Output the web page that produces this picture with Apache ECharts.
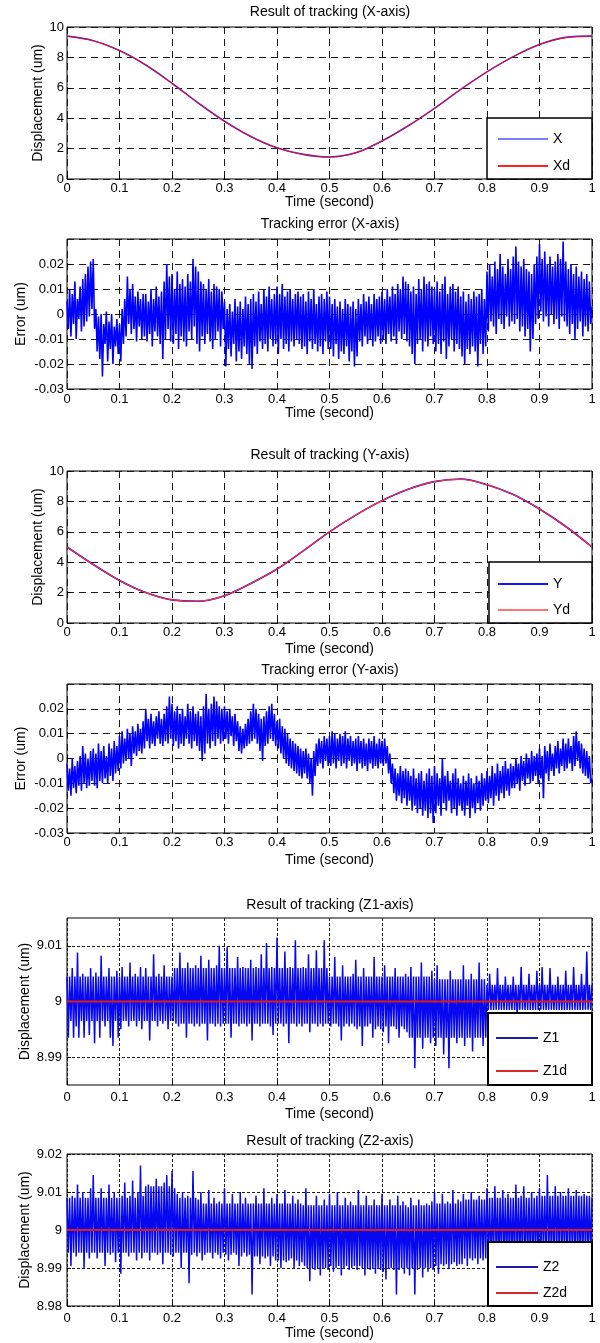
<!DOCTYPE html>
<html>
<head>
<meta charset="utf-8">
<script src="https://cdn.jsdelivr.net/npm/echarts@6/dist/echarts.min.js"></script>
<style>
  html, body { margin: 0; padding: 0; background: #fff; }
  #main { width: 600px; height: 1343px; }
</style>
</head>
<body>
<div id="main"></div>
<script>
// tracking curves, read every 0.05 s
const tCurve = [0, 0.05, 0.1, 0.15, 0.2, 0.25, 0.3, 0.35, 0.4, 0.45, 0.5, 0.55, 0.6, 0.65, 0.7, 0.75, 0.8, 0.85, 0.9, 0.95, 1];
const xMeas = [9.4, 9.1, 8.45, 7.5, 6.3, 5.0, 3.8, 2.8, 2.05, 1.62, 1.45, 1.72, 2.5, 3.5, 4.65, 5.9, 7.05, 8.05, 8.85, 9.32, 9.4];
const xRef  = [9.4, 9.1, 8.45, 7.5, 6.3, 5.0, 3.8, 2.8, 2.05, 1.62, 1.45, 1.72, 2.5, 3.5, 4.65, 5.9, 7.05, 8.05, 8.85, 9.3, 9.4];
const yMeas = [5.0, 3.85, 2.8, 2.0, 1.52, 1.43, 1.8, 2.6, 3.55, 4.75, 6.0, 7.1, 8.05, 8.8, 9.3, 9.47, 9.1, 8.45, 7.5, 6.35, 5.0];
const yRef  = [5.0, 3.85, 2.8, 2.0, 1.52, 1.43, 1.8, 2.6, 3.55, 4.75, 6.0, 7.1, 8.05, 8.8, 9.3, 9.45, 9.1, 8.45, 7.5, 6.35, 5.0];

// noisy signals, read every 0.0025 s (one row = 0.05 s)
const dtNoise = 0.0025;
const errX = [
  .005,-.006,.010,-.009,.008,-.004,.013,-.010,.006,-.002,.011,-.007,.014,-.005,.016,-.003,.019,-.001,.021,.002,
  .022,-.006,.002,-.015,-.001,-.018,.000,-.025,-.004,-.012,.001,-.019,-.003,-.014,.000,-.020,-.005,-.013,-.002,-.016,
  -.004,-.019,.002,-.012,.006,-.009,.015,-.004,.010,-.008,.012,-.006,.007,-.011,.009,-.005,.006,-.010,.008,-.009,
  .008,-.011,.005,-.008,.010,-.013,.006,-.007,.011,-.009,.007,-.012,.009,-.018,.013,-.010,.020,-.006,.015,-.011,
  .016,-.012,.010,-.008,.017,-.014,.012,-.009,.014,-.011,.011,-.013,.016,-.007,.013,-.010,.022,-.005,.019,-.012,
  .017,-.015,.013,-.009,.012,-.012,.010,-.008,.014,-.011,.009,-.014,.012,-.010,.011,-.007,.010,-.013,.009,-.006,
  .005,-.021,.002,-.014,.004,-.017,.001,-.012,.006,-.019,.003,-.015,.005,-.018,.002,-.013,.007,-.016,.004,-.020,
  .006,-.022,.008,-.013,.005,-.016,.009,-.011,.004,-.014,.010,-.012,.007,-.015,.011,-.010,.006,-.013,.008,-.012,
  .011,-.016,.008,-.010,.012,-.014,.007,-.012,.009,-.015,.010,-.011,.006,-.013,.008,-.010,.009,-.012,.007,-.014,
  .008,-.013,.005,-.016,.009,-.011,.006,-.014,.010,-.012,.004,-.015,.007,-.013,.008,-.016,.006,-.011,.009,-.014,
  .007,-.014,.004,-.017,.006,-.012,.003,-.018,.005,-.015,.002,-.016,.006,-.013,.004,-.019,.003,-.015,.005,-.021,
  .002,-.017,.006,-.011,.004,-.013,.008,-.009,.005,-.012,.007,-.010,.004,-.013,.008,-.011,.006,-.009,.007,-.012,
  .009,-.010,.006,-.012,.010,-.008,.007,-.011,.011,-.009,.008,-.012,.012,-.007,.010,-.010,.015,-.008,.013,-.011,
  .012,-.013,.009,-.016,.011,-.020,.008,-.012,.014,-.010,.010,-.015,.015,-.011,.012,-.013,.013,-.009,.011,-.012,
  .010,-.015,.013,-.012,.009,-.016,.012,-.011,.015,-.018,.008,-.013,.011,-.010,.012,-.015,.009,-.012,.011,-.014,
  .007,-.017,.009,-.020,.005,-.014,.008,-.016,.006,-.013,.009,-.015,.007,-.021,.008,-.012,.010,-.016,.006,-.013,
  .017,-.007,.020,-.003,.015,-.005,.021,-.008,.018,-.002,.024,-.004,.019,-.006,.016,-.001,.022,-.005,.018,-.003,
  .023,-.004,.027,-.002,.021,-.007,.019,-.005,.022,-.009,.018,-.006,.017,-.015,.016,-.010,.020,-.004,.023,-.002,
  .028,.001,.022,-.003,.025,-.001,.020,-.005,.023,.000,.019,-.004,.021,-.002,.024,-.006,.022,-.001,.029,-.003,
  .021,-.005,.018,-.008,.020,-.004,.016,-.010,.019,-.006,.015,-.003,.017,-.009,.014,-.005,.016,-.007,.013,-.004,
  .003
];
const errY = [
  -.002,-.013,-.004,-.015,.000,-.012,-.003,-.014,-.001,-.011,.001,-.013,.005,-.010,.002,-.012,.000,-.011,.003,-.009,
  .004,-.011,.002,-.012,.006,-.009,.003,-.010,.005,-.008,.001,-.010,.006,-.007,.004,-.009,.007,-.006,.005,-.005,
  .009,-.004,.011,-.002,.008,-.001,.012,.000,.010,-.003,.013,.002,.011,.001,.014,.003,.012,.002,.015,.004,
  .020,.007,.016,.004,.018,.006,.015,.005,.017,.008,.019,.006,.016,.005,.018,.007,.021,.006,.025,.008,
  .022,.005,.019,.007,.021,.004,.018,.006,.020,.005,.017,.008,.022,.006,.019,.004,.021,.007,.018,.005,
  .019,.003,.017,-.001,.021,.002,.026,.006,.020,.004,.022,.007,.025,.005,.023,.008,.021,.006,.020,.007,
  .021,.008,.019,.006,.020,.009,.017,.005,.018,.007,.015,.003,.013,.002,.012,.004,.014,.005,.016,.006,
  .019,.007,.022,.008,.020,.006,.018,.003,.016,-.001,.017,.005,.019,.006,.021,.008,.022,.007,.018,.005,
  .015,.004,.016,.002,.013,.000,.012,-.002,.010,-.003,.008,-.004,.007,-.005,.006,-.006,.005,-.007,.004,-.008,
  .003,-.006,.004,-.008,.002,-.010,.000,-.015,.003,-.007,.006,-.003,.008,-.002,.007,-.004,.009,-.001,.008,-.003,
  .009,-.003,.011,-.002,.010,-.004,.008,-.001,.010,-.003,.009,-.002,.011,-.004,.008,-.001,.009,-.003,.007,-.002,
  .008,-.005,.009,-.002,.007,-.004,.008,-.003,.006,-.005,.008,-.002,.007,-.004,.009,-.003,.006,-.004,.008,-.002,
  .007,-.003,.008,-.002,.005,-.006,.002,-.010,-.002,-.014,-.004,-.017,-.006,-.015,-.003,-.018,-.005,-.016,-.004,-.019,
  -.005,-.017,-.007,-.021,-.004,-.019,-.008,-.022,-.006,-.020,-.005,-.023,-.009,-.021,-.006,-.024,-.004,-.022,-.007,-.026,
  -.003,-.022,-.006,-.019,-.008,-.023,.000,-.018,-.007,-.021,-.005,-.017,-.009,-.022,-.006,-.020,-.004,-.023,-.008,-.019,
  -.010,-.021,-.007,-.023,-.009,-.019,-.006,-.024,-.008,-.020,-.010,-.022,-.007,-.018,-.009,-.021,-.006,-.019,-.008,-.017,
  -.005,-.018,-.007,-.016,-.003,-.019,-.006,-.015,-.002,-.017,-.005,-.014,-.003,-.016,-.001,-.013,-.004,-.015,-.002,-.012,
  -.003,-.012,.000,-.010,-.002,-.013,.001,-.009,-.001,-.011,.002,-.008,.000,-.010,.003,-.009,.001,-.007,.002,-.010,
  .004,-.008,.001,-.016,.005,-.006,.003,-.009,.006,-.005,.002,-.007,.005,-.004,.007,-.006,.004,-.003,.008,-.005,
  .006,-.004,.008,-.002,.005,-.005,.009,-.003,.011,-.001,.007,-.004,.006,-.006,.004,-.007,.003,-.008,.001,-.010,
  -.008
];
const z1Meas = [
  9.0045,8.9935,9.0045,8.9965,9.0060,8.9935,9.0045,8.9955,9.0088,8.9935,9.0045,8.9965,9.0050,8.9935,9.0045,8.9965,9.0045,8.9940,9.0060,8.9965,
  9.0045,8.9925,9.0052,8.9965,9.0045,8.9935,9.0082,8.9965,9.0045,8.9955,9.0045,8.9965,9.0060,8.9935,9.0045,8.9920,9.0045,8.9965,9.0055,8.9935,
  9.0045,8.9950,9.0062,8.9965,9.0045,8.9965,9.0045,8.9955,9.0070,8.9965,9.0045,8.9965,9.0050,8.9955,9.0045,8.9965,9.0062,8.9950,9.0045,8.9965,
  9.0060,8.9965,9.0045,8.9930,9.0045,8.9965,9.0085,8.9965,9.0045,8.9955,9.0050,8.9965,9.0045,8.9960,9.0065,8.9965,9.0045,8.9950,9.0045,8.9965,
  9.0045,8.9965,9.0060,8.9960,9.0060,8.9955,9.0088,8.9960,9.0060,8.9960,9.0060,8.9935,9.0070,8.9960,9.0060,8.9960,9.0060,8.9955,9.0065,8.9960,
  9.0060,8.9955,9.0082,8.9960,9.0060,8.9960,9.0060,8.9930,9.0075,8.9960,9.0060,8.9960,9.0060,8.9955,9.0065,8.9960,9.0100,8.9955,9.0060,8.9960,
  9.0060,8.9960,9.0098,8.9960,9.0060,8.9935,9.0060,8.9960,9.0060,8.9960,9.0080,8.9955,9.0060,8.9960,9.0062,8.9960,9.0060,8.9955,9.0060,8.9960,
  9.0075,8.9930,9.0060,8.9960,9.0062,8.9960,9.0060,8.9955,9.0085,8.9960,9.0060,8.9960,9.0105,8.9960,9.0060,8.9955,9.0062,8.9940,9.0060,8.9960,
  9.0115,8.9960,9.0060,8.9960,9.0060,8.9955,9.0090,8.9960,9.0060,8.9925,9.0062,8.9960,9.0060,8.9960,9.0110,8.9955,9.0060,8.9960,9.0060,8.9955,
  9.0062,8.9960,9.0060,8.9960,9.0085,8.9945,9.0060,8.9960,9.0060,8.9960,9.0092,8.9955,9.0060,8.9960,9.0060,8.9955,9.0110,8.9960,9.0060,8.9960,
  9.0045,8.9955,9.0045,8.9960,9.0080,8.9960,9.0045,8.9955,9.0045,8.9930,9.0065,8.9955,9.0045,8.9960,9.0045,8.9955,9.0045,8.9960,9.0050,8.9955,
  9.0075,8.9950,9.0045,8.9955,9.0045,8.9920,9.0060,8.9955,9.0045,8.9955,9.0045,8.9960,9.0045,8.9935,9.0080,8.9950,9.0045,8.9955,9.0045,8.9950,
  9.0045,8.9945,9.0065,8.9955,9.0045,8.9925,9.0045,8.9955,9.0045,8.9955,9.0060,8.9950,9.0045,8.9935,9.0045,8.9955,9.0045,8.9950,9.0050,8.9945,
  9.0045,8.9935,9.0062,8.9935,9.0045,8.9880,9.0045,8.9935,9.0045,8.9935,9.0070,8.9915,9.0045,8.9935,9.0045,8.9935,9.0045,8.9925,9.0055,8.9935,
  9.0040,8.9920,9.0065,8.9935,9.0040,8.9935,9.0040,8.9905,9.0040,8.9935,9.0040,8.9880,9.0055,8.9935,9.0040,8.9935,9.0040,8.9925,9.0040,8.9935,
  9.0040,8.9935,9.0065,8.9920,9.0040,8.9935,9.0040,8.9935,9.0050,8.9910,9.0040,8.9935,9.0040,8.9935,9.0070,8.9935,9.0040,8.9920,9.0040,8.9935,
  9.0030,8.9985,9.0050,8.9985,9.0030,8.9985,9.0030,8.9985,9.0060,8.9985,9.0030,8.9985,9.0030,8.9985,9.0045,8.9985,9.0030,8.9985,9.0030,8.9985,
  9.0045,8.9985,9.0030,8.9975,9.0030,8.9985,9.0062,8.9985,9.0030,8.9985,9.0030,8.9985,9.0050,8.9985,9.0030,8.9985,9.0030,8.9985,9.0055,8.9985,
  9.0030,8.9985,9.0062,8.9985,9.0030,8.9985,9.0030,8.9985,9.0060,8.9985,9.0030,8.9985,9.0030,8.9985,9.0045,8.9985,9.0030,8.9985,9.0030,8.9985,
  9.0055,8.9985,9.0030,8.9985,9.0030,8.9985,9.0062,8.9985,9.0030,8.9985,9.0030,8.9985,9.0050,8.9985,9.0030,8.9985,9.0090,8.9985,9.0030,8.9985,
  9.0030
];
const z2Meas = [
  9.0085,8.9940,9.0085,8.9905,9.0090,8.9940,9.0085,8.9930,9.0120,8.9940,9.0085,8.9940,9.0100,8.9900,9.0085,8.9940,9.0085,8.9925,9.0110,8.9940,
  9.0145,8.9940,9.0085,8.9925,9.0085,8.9940,9.0110,8.9940,9.0085,8.9905,9.0085,8.9940,9.0120,8.9935,9.0085,8.9940,9.0100,8.9915,9.0085,8.9940,
  9.0085,8.9885,9.0090,8.9940,9.0125,8.9940,9.0085,8.9930,9.0090,8.9940,9.0130,8.9940,9.0085,8.9920,9.0100,8.9940,9.0170,8.9925,9.0090,8.9940,
  9.0115,8.9940,9.0120,8.9920,9.0115,8.9940,9.0115,8.9940,9.0135,8.9935,9.0115,8.9940,9.0115,8.9910,9.0125,8.9940,9.0145,8.9940,9.0115,8.9935,
  9.0155,8.9930,9.0110,8.9940,9.0095,8.9940,9.0085,8.9900,9.0100,8.9940,9.0085,8.9940,9.0090,8.9860,9.0085,8.9935,9.0155,8.9940,9.0085,8.9930,
  9.0080,8.9940,9.0100,8.9920,9.0070,8.9935,9.0070,8.9940,9.0105,8.9940,9.0070,8.9925,9.0085,8.9940,9.0070,8.9935,9.0075,8.9925,9.0070,8.9940,
  9.0110,8.9935,9.0070,8.9920,9.0070,8.9935,9.0095,8.9940,9.0070,8.9935,9.0070,8.9905,9.0100,8.9930,9.0070,8.9940,9.0085,8.9930,9.0070,8.9935,
  9.0070,8.9830,9.0070,8.9930,9.0090,8.9930,9.0070,8.9910,9.0070,8.9930,9.0110,8.9925,9.0070,8.9930,9.0070,8.9905,9.0085,8.9930,9.0070,8.9920,
  9.0095,8.9920,9.0070,8.9900,9.0070,8.9920,9.0105,8.9915,9.0070,8.9920,9.0070,8.9925,9.0090,8.9900,9.0070,8.9920,9.0080,8.9905,9.0070,8.9915,
  9.0065,8.9905,9.0110,8.9900,9.0065,8.9865,9.0065,8.9900,9.0065,8.9895,9.0090,8.9900,9.0065,8.9880,9.0065,8.9900,9.0080,8.9900,9.0065,8.9895,
  9.0095,8.9905,9.0065,8.9890,9.0065,8.9900,9.0100,8.9905,9.0065,8.9880,9.0065,8.9900,9.0085,8.9905,9.0065,8.9895,9.0075,8.9900,9.0065,8.9905,
  9.0065,8.9895,9.0105,8.9905,9.0065,8.9900,9.0065,8.9880,9.0090,8.9900,9.0065,8.9895,9.0065,8.9900,9.0080,8.9885,9.0065,8.9900,9.0065,8.9895,
  9.0095,8.9890,9.0065,8.9870,9.0065,8.9900,9.0080,8.9900,9.0065,8.9895,9.0065,8.9830,9.0090,8.9895,9.0065,8.9900,9.0075,8.9885,9.0065,8.9900,
  9.0060,8.9880,9.0085,8.9900,9.0065,8.9830,9.0065,8.9895,9.0080,8.9900,9.0065,8.9875,9.0065,8.9900,9.0070,8.9890,9.0065,8.9900,9.0075,8.9895,
  9.0100,8.9905,9.0070,8.9885,9.0070,8.9910,9.0095,8.9905,9.0070,8.9910,9.0075,8.9900,9.0070,8.9910,9.0105,8.9915,9.0070,8.9905,9.0080,8.9910,
  9.0075,8.9910,9.0095,8.9925,9.0080,8.9905,9.0080,8.9925,9.0100,8.9920,9.0080,8.9925,9.0080,8.9910,9.0090,8.9925,9.0080,8.9920,9.0080,8.9925,
  9.0110,8.9925,9.0085,8.9910,9.0085,8.9930,9.0115,8.9930,9.0085,8.9915,9.0085,8.9930,9.0105,8.9930,9.0085,8.9920,9.0095,8.9930,9.0085,8.9930,
  9.0085,8.9915,9.0120,8.9930,9.0085,8.9930,9.0090,8.9920,9.0115,8.9935,9.0085,8.9930,9.0085,8.9925,9.0100,8.9930,9.0085,8.9930,9.0090,8.9925,
  9.0110,8.9930,9.0090,8.9940,9.0090,8.9930,9.0145,8.9925,9.0090,8.9935,9.0090,8.9930,9.0115,8.9930,9.0090,8.9940,9.0100,8.9930,9.0090,8.9935,
  9.0090,8.9935,9.0110,8.9930,9.0090,8.9940,9.0090,8.9930,9.0105,8.9925,9.0090,8.9935,9.0090,8.9930,9.0095,8.9935,9.0090,8.9935,9.0090,8.9930,
  9.0085
];
const tRefZ = [0, 1];
const z1Ref = [9, 9];
const z2Ref = [9, 9];

const pairs = (t, v) => v.map((y, i) => [t[i], y]);
const noisePairs = v => v.map((y, i) => [i * dtNoise, y]);

const font = 'Liberation Sans';
const chart = echarts.init(document.getElementById('main'), null, { renderer: 'canvas' });

const grids = [
  { top: 27, height: 152 },
  { top: 239, height: 150 },
  { top: 471, height: 152 },
  { top: 684, height: 149 },
  { top: 918, height: 167 },
  { top: 1154, height: 152 }
].map(g => Object.assign({
  left: 67, width: 525, show: true, borderColor: '#000', borderWidth: 1,
  backgroundColor: 'transparent', outerBoundsMode: 'none'
}, g));

const dashBig = [7, 5];
const dashSmall = [3, 2];

function xAxisFor(g, gap, margin, dash) {
  return {
    type: 'value', gridIndex: g, min: 0, max: 1, interval: 0.1,
    name: 'Time (second)', nameLocation: 'middle', nameGap: gap, nameMoveOverlap: false,
    nameTextStyle: { fontFamily: font, fontSize: 14, color: '#000' },
    axisLine: { show: false },
    axisTick: { inside: true, length: 4, lineStyle: { color: '#000' } },
    axisLabel: { fontFamily: font, fontSize: 13, color: '#000', margin: margin },
    splitLine: { show: true, lineStyle: { color: '#1a1a1a', type: dash, width: 1 } }
  };
}

function yAxisFor(g, name, gap, margin, dash, extra) {
  return Object.assign({
    type: 'value', gridIndex: g,
    name: name, nameLocation: 'middle', nameGap: gap, nameMoveOverlap: false,
    nameTextStyle: { fontFamily: font, fontSize: 14, color: '#000' },
    axisLine: { show: false },
    axisTick: { inside: true, length: 4, lineStyle: { color: '#000' } },
    axisLabel: { fontFamily: font, fontSize: 13, color: '#000', margin: margin },
    splitLine: { show: true, lineStyle: { color: '#1a1a1a', type: dash, width: 1 } }
  }, extra);
}

const xAxes = [
  xAxisFor(0, 16, 3, dashBig),
  xAxisFor(1, 17, 4, dashBig),
  xAxisFor(2, 19, 3, dashBig),
  xAxisFor(3, 20, 3, dashBig),
  xAxisFor(4, 22, 6, dashSmall),
  xAxisFor(5, 20, 6, dashSmall)
];

const yAxes = [
  yAxisFor(0, 'Displacement (um)', 22, 3, dashBig, { min: 0, max: 10, interval: 2 }),
  yAxisFor(1, 'Error (um)', 39, 3, dashBig, { min: -0.03, max: 0.03, interval: 0.01 }),
  yAxisFor(2, 'Displacement (um)', 22, 3, dashBig, { min: 0, max: 10, interval: 2 }),
  yAxisFor(3, 'Error (um)', 39, 3, dashBig, { min: -0.03, max: 0.03, interval: 0.01 }),
  yAxisFor(4, 'Displacement (um)', 35, 5, dashSmall, { min: 8.985, max: 9.015 }),
  yAxisFor(5, 'Displacement (um)', 35, 5, dashSmall, { min: 8.98, max: 9.02, interval: 0.01 })
];
// hide unlabeled top tick of the error plots
yAxes[1].axisLabel.showMaxLabel = false;
yAxes[3].axisLabel.showMaxLabel = false;
// Z1 axis: ticks only at 8.99, 9, 9.01
yAxes[4].axisTick.customValues = [8.99, 9, 9.01];
yAxes[4].axisLabel.customValues = [8.99, 9, 9.01];

function line(name, g, data, color, width, smooth) {
  return {
    name: name, type: 'line', xAxisIndex: g, yAxisIndex: g, data: data,
    symbol: 'none', showSymbol: false, smooth: smooth || false,
    lineStyle: { color: color, width: width }, itemStyle: { color: color },
    animation: false
  };
}

const series = [
  line('X', 0, pairs(tCurve, xMeas), '#3a3aff', 1.6, 0.35),
  line('Xd', 0, pairs(tCurve, xRef), '#ff0000', 1, 0.35),
  line('Error X', 1, noisePairs(errX), '#0000ff', 1.6),
  line('Y', 2, pairs(tCurve, yMeas), '#0000ff', 1.6, 0.35),
  line('Yd', 2, pairs(tCurve, yRef), '#ff3030', 1.2, 0.35),
  line('Error Y', 3, noisePairs(errY), '#0000ff', 1.6),
  line('Z1', 4, noisePairs(z1Meas), '#0808f0', 1.5),
  line('Z1d', 4, pairs(tRefZ, z1Ref), '#e01818', 2),
  line('Z2', 5, noisePairs(z2Meas), '#0808f0', 1.5),
  line('Z2d', 5, pairs(tRefZ, z2Ref), '#e01818', 2)
];

const titles = [
  ['Result of tracking (X-axis)', 5],
  ['Tracking error (X-axis)', 217],
  ['Result of tracking (Y-axis)', 448],
  ['Tracking error (Y-axis)', 663],
  ['Result of tracking (Z1-axis)', 898],
  ['Result of tracking (Z2-axis)', 1134]
].map(t => ({
  text: t[0], left: 330, top: t[1], textAlign: 'center', padding: 0,
  textStyle: { fontFamily: font, fontSize: 14, fontWeight: 'normal', color: '#000' }
}));

function legendFor(items, left, top, w, gap) {
  return {
    data: items, orient: 'vertical', left: left, top: top, padding: 0,
    icon: 'rect', itemWidth: w, itemHeight: 2, itemGap: gap, selectedMode: false, z: 20,
    textStyle: { fontFamily: font, fontSize: 14, color: '#000' }
  };
}

const legends = [
  legendFor([{ name: 'X', itemStyle: { color: '#7c7cff' } },
             { name: 'Xd', itemStyle: { color: '#ff2020' } }], 498, 132, 50, 13),
  legendFor([{ name: 'Y', itemStyle: { color: '#1414ff' } },
             { name: 'Yd', itemStyle: { color: '#ff7474' } }], 498, 577, 50, 12),
  legendFor([{ name: 'Z1', itemStyle: { color: '#1c1ca8' } },
             { name: 'Z1d', itemStyle: { color: '#d82828' } }], 496, 1031, 42, 19),
  legendFor([{ name: 'Z2', itemStyle: { color: '#1c1ca8' } },
             { name: 'Z2d', itemStyle: { color: '#d82828' } }], 496, 1260, 42, 12)
];

// white legend frames drawn over the data
const legendBoxes = [
  [487, 118, 105, 61, 1.5],
  [489, 562, 103, 61, 1.5],
  [488, 1013, 104, 72, 2],
  [488, 1242, 104, 64, 2]
];

chart.setOption({
  backgroundColor: '#fff',
  animation: false,
  title: titles,
  grid: grids,
  xAxis: xAxes,
  yAxis: yAxes,
  legend: legends,
  series: series,
  graphic: legendBoxes.map(b => ({
    type: 'rect', x: b[0], y: b[1], z: 10,
    shape: { x: 0, y: 0, width: b[2], height: b[3] },
    style: { fill: '#fff', stroke: '#000', lineWidth: b[4] }
  }))
});
</script>
</body>
</html>
